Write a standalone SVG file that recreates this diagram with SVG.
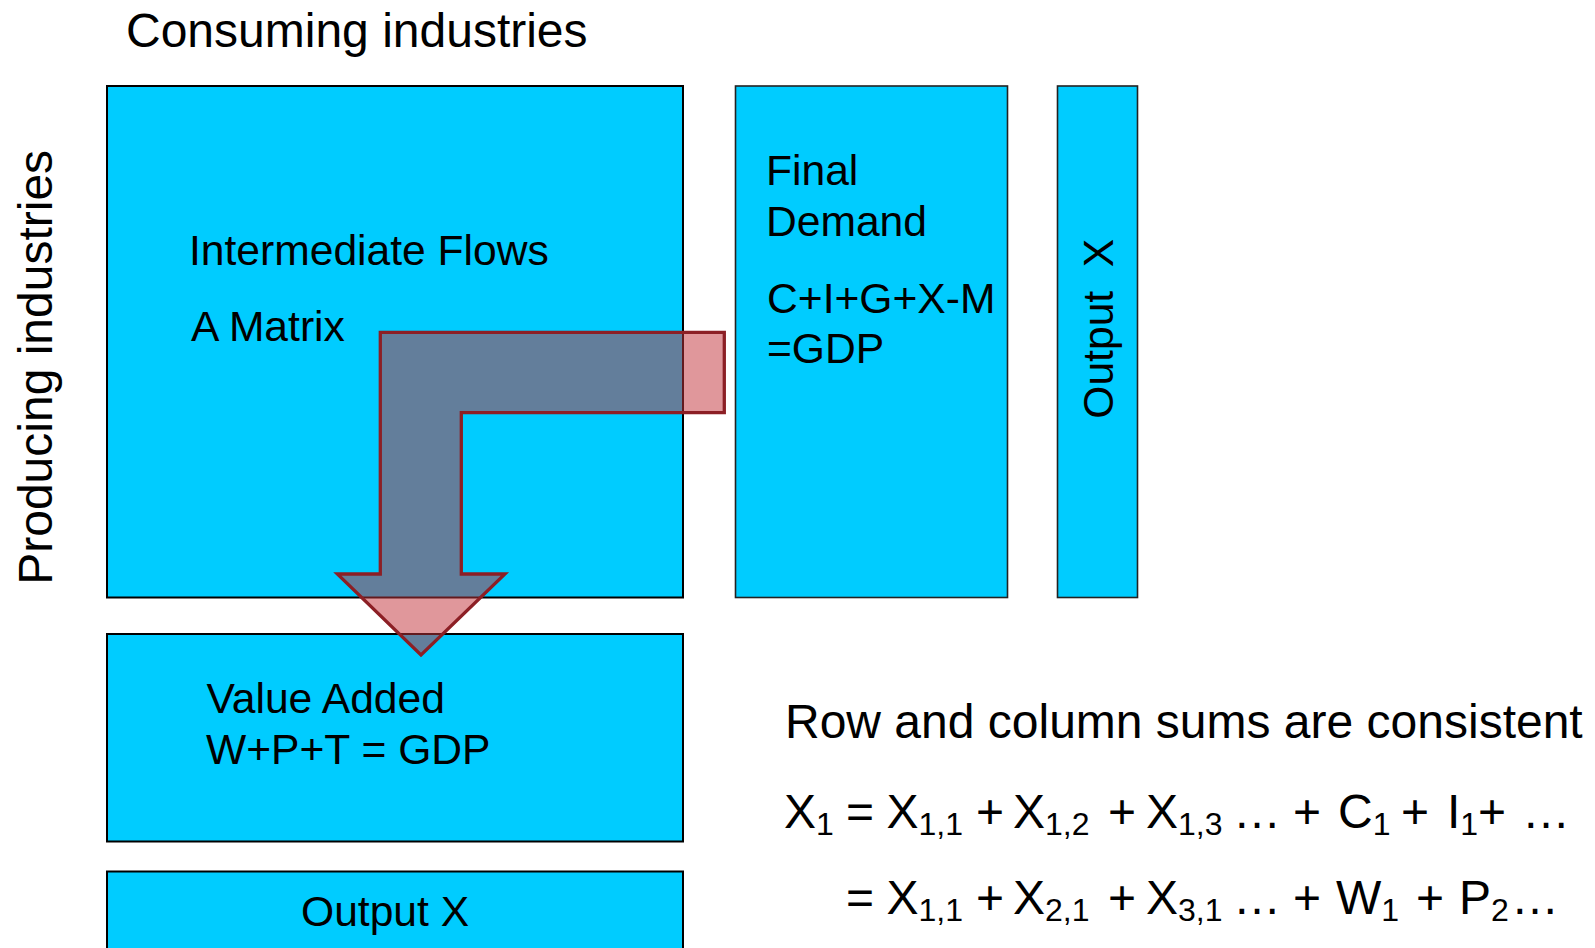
<svg xmlns="http://www.w3.org/2000/svg" width="1595" height="948" viewBox="0 0 1595 948">
<style>
.box{fill:#00CCFF;stroke:#000;stroke-width:2}
.box2{fill:#00CCFF;stroke:#222;stroke-width:1.6}
text{font-family:"Liberation Sans",Arial,sans-serif;fill:#000}
.t48{font-size:48px}
.t42{font-size:42.6px}
.sb{font-size:32px}
.arrow{fill:#C2333A;fill-opacity:0.51;stroke:#8C1F25;stroke-width:3.3;stroke-linejoin:miter}
</style>
<rect width="1595" height="948" fill="#fff"/>
<g id="label-consuming"><text class="t48" x="126" y="46.5">Consuming industries</text></g>
<g id="label-producing"><text class="t48" transform="translate(51.5,584.8) rotate(-90)">Producing industries</text></g>
<g id="intermediate">
<rect class="box" x="107" y="86" width="576" height="511.5"/>
<text class="t42" x="189" y="265">Intermediate Flows</text>
<text class="t42" x="191" y="340.5">A Matrix</text>
</g>
<g id="final-demand">
<rect class="box2" x="735.5" y="86" width="272" height="511.5"/>
<text class="t42" x="766" y="185">Final</text>
<text class="t42" x="766" y="235.5">Demand</text>
<text class="t42" x="767" y="313">C+I+G+X-M</text>
<text class="t42" x="767" y="363">=GDP</text>
</g>
<g id="output-col">
<rect class="box2" x="1057.5" y="86" width="80" height="511.5"/>
<text class="t42" xml:space="preserve" transform="translate(1112.5,418.7) rotate(-90)">Output  X</text>
</g>
<g id="value-added">
<rect class="box" x="107" y="634" width="576" height="207.5"/>
<text class="t42" x="206.5" y="713">Value Added</text>
<text class="t42" x="206" y="764">W+P+T = GDP</text>
</g>
<g id="output-row">
<rect class="box" x="107" y="871.5" width="576" height="90"/>
<text class="t42" x="301" y="925.5">Output X</text>
</g>
<g id="connectors">
<polygon class="arrow" points="380.3,332.3 724.3,332.3 724.3,412.7 461.3,412.7 461.3,574 505,574 421,655 337.3,574 380.3,574"/>
</g>
<g id="equations">
<text class="t48" x="785" y="738">Row and column sums are consistent</text>
<text class="t48" y="828"><tspan x="784">X</tspan><tspan class="sb" dy="7">1</tspan><tspan x="846" dy="-7">=</tspan><tspan x="886.5">X</tspan><tspan class="sb" dy="7">1,1</tspan><tspan x="976" dy="-7">+</tspan><tspan x="1013">X</tspan><tspan class="sb" dy="7">1,2</tspan><tspan x="1108" dy="-7">+</tspan><tspan x="1146">X</tspan><tspan class="sb" dy="7">1,3</tspan><tspan x="1233" dy="-7">…</tspan><tspan x="1293">+</tspan><tspan x="1338">C</tspan><tspan class="sb" dy="7">1</tspan><tspan x="1401" dy="-7">+</tspan><tspan x="1447">I</tspan><tspan class="sb" dy="7">1</tspan><tspan x="1478" dy="-7">+</tspan><tspan x="1522">…</tspan></text>
<text class="t48" y="914"><tspan x="846">=</tspan><tspan x="886.5">X</tspan><tspan class="sb" dy="7">1,1</tspan><tspan x="976" dy="-7">+</tspan><tspan x="1013">X</tspan><tspan class="sb" dy="7">2,1</tspan><tspan x="1108" dy="-7">+</tspan><tspan x="1146">X</tspan><tspan class="sb" dy="7">3,1</tspan><tspan x="1233" dy="-7">…</tspan><tspan x="1293">+</tspan><tspan x="1336">W</tspan><tspan class="sb" dy="7">1</tspan><tspan x="1416" dy="-7">+</tspan><tspan x="1459">P</tspan><tspan class="sb" dy="7">2</tspan><tspan x="1511" dy="-7">…</tspan></text>
</g>
</svg>
